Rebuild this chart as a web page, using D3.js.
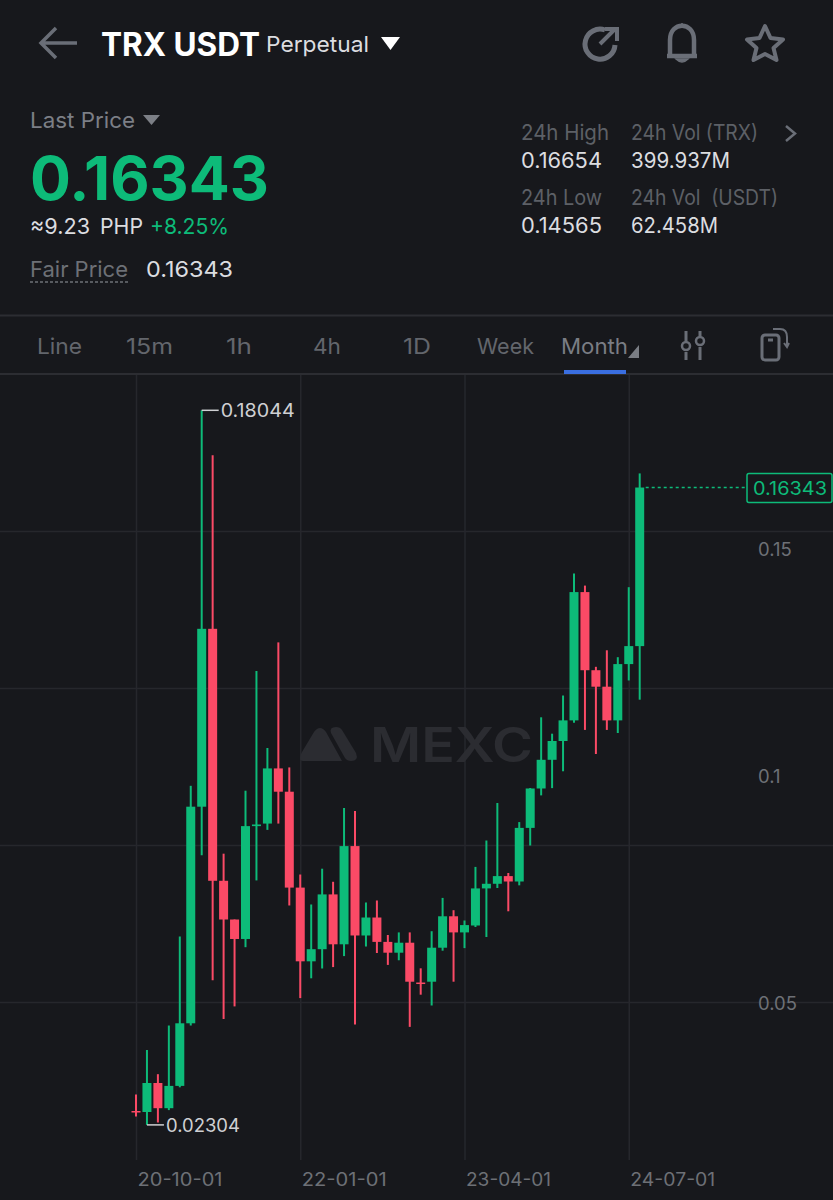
<!DOCTYPE html>
<html>
<head>
<meta charset="utf-8">
<title>TRX USDT</title>
<script src="https://cdn.jsdelivr.net/npm/d3@7"></script>
<style>
  html, body { margin: 0; padding: 0; background: #17181c; }
  svg { display: block; font-family: Inter, Roboto, sans-serif; }
</style>
</head>
<body>
<svg id="chart" width="833" height="1200"></svg>
<script>
// monthly candles, 2020-10 .. 2024-08
const months = ['20-10-01','20-11-01','20-12-01','21-01-01','21-02-01','21-03-01','21-04-01','21-05-01','21-06-01','21-07-01','21-08-01','21-09-01','21-10-01','21-11-01','21-12-01',
  '22-01-01','22-02-01','22-03-01','22-04-01','22-05-01','22-06-01','22-07-01','22-08-01','22-09-01','22-10-01','22-11-01','22-12-01','23-01-01','23-02-01','23-03-01',
  '23-04-01','23-05-01','23-06-01','23-07-01','23-08-01','23-09-01','23-10-01','23-11-01','23-12-01','24-01-01','24-02-01','24-03-01','24-04-01','24-05-01','24-06-01','24-07-01','24-08-01']
const opens = [.02610,.02588,.03227,.02672,.03163,.04542,.09313,.13231,.07681,.06828,.06399,.08885,.08941,.10156,.09643,
  .07531,.05907,.06174,.07381,.06282,.08445,.06476,.06872,.06335,.06097,.06317,.05440,.05458,.06207,.06899,
  .06544,.06696,.07513,.07615,.07784,.07665,.08846,.09714,.10346,.10760,.11214,.14040,.12319,.11956,.11214,.12454,.12850]
const closes = [.02590,.03227,.02672,.03163,.04542,.09313,.13231,.07681,.06828,.06399,.08885,.08921,.10156,.09643,.07531,
  .05907,.06174,.07381,.06282,.08445,.06476,.06872,.06335,.06097,.06317,.05458,.05420,.06207,.06899,.06544,
  .06705,.07513,.07615,.07784,.07665,.08846,.09714,.10346,.10760,.11214,.14040,.12319,.11956,.11214,.12454,.12850,.16343]
const highs = [.02974,.03954,.03421,.04493,.06454,.09773,.18044,.17053,.08278,.06828,.09665,.12302,.10606,.12932,.10178,
  .07819,.07159,.07947,.07659,.09284,.09216,.07203,.07247,.06487,.06544,.06544,.05753,.06570,.07304,.07033,
  .06806,.07987,.08568,.09394,.07852,.08974,.09725,.11282,.10921,.11762,.14451,.14183,.12394,.12758,.12606,.14148,.16654]
const lows = [.02489,.02304,.02357,.02630,.03132,.04493,.08244,.05491,.04637,.04914,.06218,.07689,.08802,.08941,.07137,
  .05097,.05533,.05749,.05780,.06022,.04515,.06233,.06090,.05828,.05930,.04463,.05172,.04934,.06141,.05458,
  .06198,.06663,.06443,.07522,.07009,.07581,.08458,.09562,.09722,.10093,.11163,.11004,.10474,.11004,.10936,.12093,.11670]
const priceTicks = [0.05, 0.1, 0.15]
const gridPrices = [0.05, 0.08458, 0.11916, 0.15374]
const dateTicks = ['20-10-01', '22-01-01', '23-04-01', '24-07-01']
const lastPrice = 0.16343

const green = '#0dbb79', red = '#fb4a66', bg = '#17181c'
const grid = '#26272c', muted = '#6d7076', soft = '#dcdde0', iconGrey = '#6a6e77'

const svg = d3.select('#chart')
svg.append('rect').attr('width', 833).attr('height', 1200).attr('fill', bg)

// y = 1002 at 0.05, 227px per 0.05
const y = d3.scaleLinear().domain([0, 0.2]).range([1229.5, 321.5])
const x = d3.scalePoint().domain(months).range([136, 639.7])

function txt(px, py, str, size, fill, width, weight){
    const t = svg.append('text').attr('x', px).attr('y', py).attr('font-size', size)
        .attr('fill', fill).attr('font-weight', weight || 400).attr('xml:space', 'preserve').text(str)
    if(width) t.attr('textLength', width).attr('lengthAdjust', 'spacingAndGlyphs')
    return t
}

// header
svg.append('path').attr('d', 'M77 43H42M56 28L41 43L56 58').attr('fill', 'none').attr('stroke', iconGrey).attr('stroke-width', 3.5)
txt(101, 55.5, 'TRX USDT', 32, '#ffffff', 159, 700)
txt(266, 52, 'Perpetual', 22, soft, 103, 400)
svg.append('path').attr('d', 'M381 37H400L390.5 50Z').attr('fill', '#fff')
// refresh
svg.append('path').attr('d', 'M605 30A15 15 0 1 0 615 45').attr('fill', 'none').attr('stroke', iconGrey).attr('stroke-width', 5)
svg.append('path').attr('d', 'M600 44L614 30M605 29H617V41').attr('fill', 'none').attr('stroke', iconGrey).attr('stroke-width', 4)
// bell
svg.append('path').attr('d', 'M667 56H697M670 55V40C670 21 694 21 694 40V55').attr('fill', 'none').attr('stroke', iconGrey).attr('stroke-width', 4.5)
svg.append('path').attr('d', 'M676 59H688Q685 62 682 62Q679 62 676 59Z M682 23V27').attr('fill', iconGrey).attr('stroke', iconGrey).attr('stroke-width', 1.5)
// star
svg.append('path').attr('d', 'M765 26L770.5 38L783 39.5L773.5 48L776.5 60L765 54L753.5 60L756.5 48L747 39.5L759.5 38Z')
    .attr('fill', 'none').attr('stroke', iconGrey).attr('stroke-width', 4).attr('stroke-linejoin', 'round')

// price block
txt(30, 127.5, 'Last Price', 22, '#7c7f86', 105, 400)
svg.append('path').attr('d', 'M143 115H160L151.5 125Z').attr('fill', '#7c7f86')
txt(30, 199.5, '0.16343', 60, green, 239, 700)
txt(30, 234, '≈9.23', 22, soft, 60)
txt(100, 234, 'PHP', 22, soft, 43)
txt(150, 234, '+8.25%', 22, green, 79)
txt(30, 277, 'Fair Price', 22, muted, 98)
svg.append('line').attr('x1', 30).attr('x2', 129).attr('y1', 282).attr('y2', 282)
    .attr('stroke', muted).attr('stroke-width', 1.5).attr('stroke-dasharray', '3 2')
txt(146, 277, '0.16343', 22, soft, 87)

// 24h stats
txt(521, 140, '24h High', 21, '#5d6066', 88)
txt(631, 140, '24h Vol (TRX)', 21, '#5d6066', 127)
svg.append('path').attr('d', 'M786 126L795 133.5L786 141').attr('fill', 'none').attr('stroke', iconGrey).attr('stroke-width', 2.5)
txt(521, 168, '0.16654', 21, soft, 81)
txt(631, 168, '399.937M', 21, soft, 99)
txt(521, 205, '24h Low', 21, '#5d6066', 81)
txt(631, 205, '24h Vol  (USDT)', 21, '#5d6066', 147)
txt(521, 233, '0.14565', 21, soft, 81)
txt(631, 233, '62.458M', 21, soft, 87)

// tabs
svg.append('line').attr('x1', 0).attr('x2', 833).attr('y1', 315.5).attr('y2', 315.5).attr('stroke', '#2c2d32').attr('stroke-width', 2)
const tabLabels = ['Line', '15m', '1h', '4h', '1D', 'Week', 'Month']
const tabX = [37, 126, 226, 313, 403, 477, 561]
const tabW = [45, 47, 26, 28, 28, 57, 67]
tabLabels.forEach((t, i) => txt(tabX[i], 353.5, t, 22, i === 6 ? '#7a7d84' : '#63666c', tabW[i], 400))
svg.append('path').attr('d', 'M639 345V358H628Z').attr('fill', '#7a7d84')
// sliders icon
svg.append('path').attr('d', 'M686 331V341M686 352V360M700 331V336M700 347V360').attr('stroke', iconGrey).attr('stroke-width', 3).attr('fill', 'none')
svg.append('circle').attr('cx', 686).attr('cy', 346).attr('r', 4).attr('fill', 'none').attr('stroke', iconGrey).attr('stroke-width', 2.5)
svg.append('circle').attr('cx', 700).attr('cy', 341).attr('r', 4).attr('fill', 'none').attr('stroke', iconGrey).attr('stroke-width', 2.5)
// rotate icon
svg.append('rect').attr('x', 762).attr('y', 335).attr('width', 17).attr('height', 25).attr('rx', 3).attr('fill', 'none').attr('stroke', iconGrey).attr('stroke-width', 3)
svg.append('line').attr('x1', 768).attr('x2', 773).attr('y1', 340).attr('y2', 340).attr('stroke', iconGrey).attr('stroke-width', 3)
svg.append('path').attr('d', 'M773 329H780Q787 329 787 337V346M784 343L787 347L789 343').attr('fill', 'none').attr('stroke', iconGrey).attr('stroke-width', 2)
svg.append('line').attr('x1', 0).attr('x2', 833).attr('y1', 374).attr('y2', 374).attr('stroke', '#2c2d32').attr('stroke-width', 2)
svg.append('rect').attr('x', 564).attr('y', 370).attr('width', 62).attr('height', 4).attr('fill', '#3a6ee0')

// grid
svg.append('g').selectAll('line').data(gridPrices).join('line')
    .attr('x1', 0).attr('x2', 833).attr('y1', d => y(d)).attr('y2', d => y(d))
    .attr('stroke', grid).attr('stroke-width', 1.5)

const xAxis = d3.axisBottom(x).tickValues(dateTicks).tickSize(-785).tickPadding(13)
const xg = svg.append('g').attr('transform', 'translate(0,1160)').call(xAxis)
xg.select('.domain').remove()
xg.selectAll('.tick line').attr('stroke', grid).attr('stroke-width', 1.5)
xg.selectAll('.tick text').attr('fill', muted).attr('font-size', 18.5).attr('font-family', 'Inter, Roboto, sans-serif')
    .attr('text-anchor', 'start').attr('x', 1).attr('textLength', 85).attr('lengthAdjust', 'spacingAndGlyphs')

// watermark
const wm = svg.append('g').attr('fill', '#2b2c31')
wm.append('path').attr('d', 'M300 758Q300 755 302 752L314 732Q320 724 326 732L342 761H303Q300 761 300 758Z')
wm.append('path').attr('d', 'M331 733Q329 727 336 727Q340 727 342 730L356 753Q359 761 351 761Q347 761 345 758Z')
wm.append('text').attr('x', 370).attr('y', 761.5).attr('font-size', 48).attr('font-weight', 600)
    .attr('textLength', 163).attr('lengthAdjust', 'spacingAndGlyphs').text('MEXC')

// candles
const bodyW = 9
const candles = svg.append('g').selectAll('g').data(months).join('g')
const colour = (d, i) => closes[i] >= opens[i] ? green : red
candles.append('line')
    .attr('x1', d => x(d)).attr('x2', d => x(d))
    .attr('y1', (d, i) => y(highs[i])).attr('y2', (d, i) => y(lows[i]))
    .attr('stroke', colour).attr('stroke-width', 2)
candles.append('rect')
    .attr('x', d => x(d) - bodyW / 2).attr('width', bodyW)
    .attr('y', (d, i) => y(Math.max(opens[i], closes[i])))
    .attr('height', (d, i) => Math.max(1.5, Math.abs(y(opens[i]) - y(closes[i]))))
    .attr('fill', colour)

// high / low markers
const hiIdx = highs.indexOf(d3.max(highs)), loIdx = lows.indexOf(d3.min(lows))
function marker(i, val){
    const mx = x(months[i]), my = y(val)
    svg.append('line').attr('x1', mx).attr('x2', mx + 17).attr('y1', my).attr('y2', my).attr('stroke', '#cfd0d3').attr('stroke-width', 1.5)
    txt(mx + 19, my + 7, val.toFixed(5), 18.5, '#cfd0d3', 74)
}
marker(hiIdx, highs[hiIdx])
marker(loIdx, lows[loIdx])

// y axis labels
const yAxis = d3.axisRight(y).tickValues(priceTicks).tickFormat(d => String(d)).tickSize(0).tickPadding(0)
const yg = svg.append('g').attr('transform', 'translate(758,1)').call(yAxis)
yg.select('.domain').remove()
yg.selectAll('.tick text').attr('fill', muted).attr('font-size', 18.5).attr('font-family', 'Inter, Roboto, sans-serif')

// last price tag
svg.append('line').attr('x1', x(months[46]) + 6).attr('x2', 747).attr('y1', y(lastPrice)).attr('y2', y(lastPrice))
    .attr('stroke', green).attr('stroke-width', 1.5).attr('stroke-dasharray', '3 3')
svg.append('rect').attr('x', 747).attr('y', y(lastPrice) - 14).attr('width', 85).attr('height', 29).attr('rx', 2)
    .attr('fill', bg).attr('stroke', green).attr('stroke-width', 1.5)
txt(753, y(lastPrice) + 7.5, lastPrice.toFixed(5), 18.5, green, 74)
</script>
</body>
</html>
